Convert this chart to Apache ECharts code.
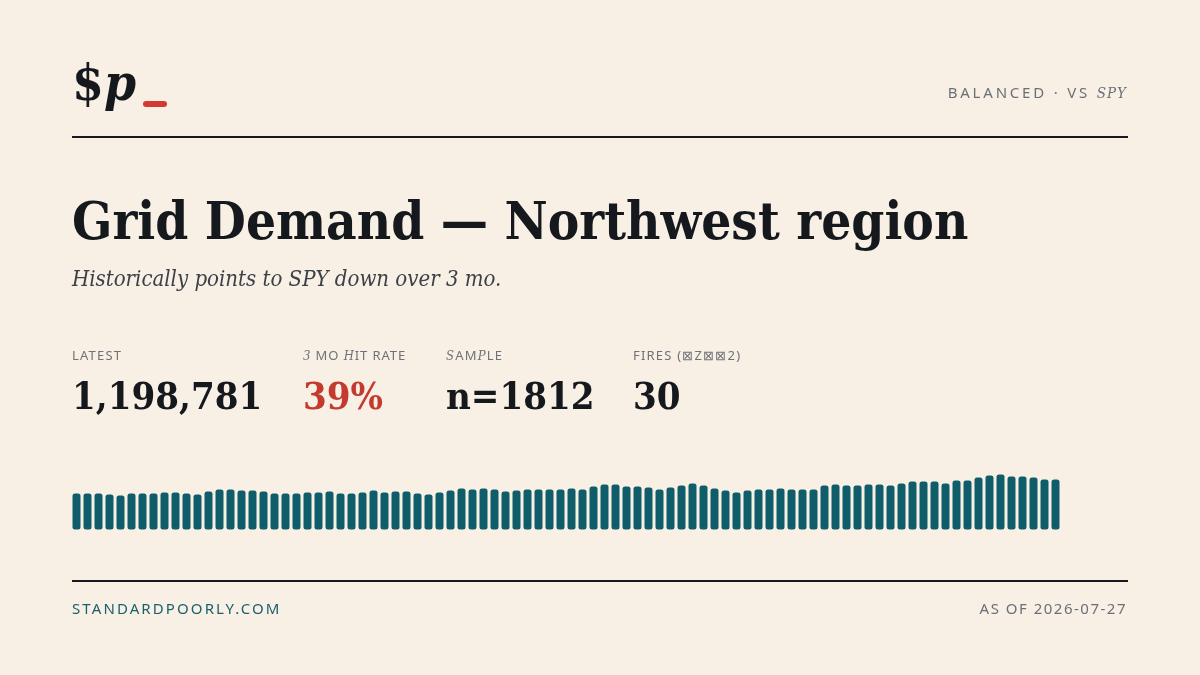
<!DOCTYPE html>
<html lang="en">
<head>
    <meta charset="UTF-8">
    <title>Grid Demand — Northwest region</title>
    <script src="https://cdn.jsdelivr.net/npm/echarts@6/dist/echarts.min.js"></script>
    <style>
        html, body { margin: 0; padding: 0; background: #f8f0e4; }
        #card { position: relative; width: 1200px; height: 675px; background: #f8f0e4; overflow: hidden; }
        #main { position: absolute; left: 0; top: 0; width: 1200px; height: 675px; }
        .t { position: absolute; white-space: nowrap; line-height: 1; }
        .serif { font-family: "DejaVu Serif Condensed", "DejaVu Serif", serif; font-stretch: condensed; }
        .sans { font-family: "Noto Sans", "Open Sans", sans-serif; }
        .it { font-family: "DejaVu Serif Condensed", "DejaVu Serif", serif; font-stretch: condensed; font-style: italic; }
        .rule { position: absolute; left: 72px; width: 1056px; height: 2px; background: #16191d; }
        .label { font-size: 13px; letter-spacing: 1.2px; color: #6e727a; top: 349px; }
        .value { font-size: 38px; font-weight: bold; color: #15191e; top: 377px; }
    </style>
</head>
<body>
<div id="card">
    <div id="main"></div>

    <div class="t serif" style="left:72px; top:57px; font-size:51px; font-weight:bold; color:#15191e;">$<i>p</i></div>
    <div style="position:absolute; left:143px; top:101px; width:24px; height:6px; border-radius:3px; background:#d13b30;"></div>
    <div class="t sans" style="right:73px; top:85px; font-size:15px; letter-spacing:2.8px; color:#6b7078;">BALANCED · VS <span class="it" style="letter-spacing:1px;">SPY</span></div>
    <div class="rule" style="top:136px;"></div>

    <div class="t serif" style="left:72px; top:195px; font-size:52.6px; font-weight:bold; color:#15191e;">Grid Demand — Northwest region</div>
    <div class="t it" style="left:72px; top:268px; font-size:22px; color:#3d4048;">Historically points to SPY down over 3 mo.</div>

    <div class="t sans label" style="left:72px;">LATEST</div>
    <div class="t sans label" style="left:303px; letter-spacing:0.9px;"><span class="it">3</span> MO <span class="it">H</span>IT RATE</div>
    <div class="t sans label" style="left:446px;"><span class="it">S</span>AM<span class="it">P</span>LE</div>
    <div class="t sans label" style="left:633px;">FIRES (⊠Z⊠⊠2)</div>

    <div class="t serif value" style="left:72px;">1,198,781</div>
    <div class="t serif value" style="left:303px; color:#c23b2e;">39%</div>
    <div class="t serif value" style="left:446px;">n=1812</div>
    <div class="t serif value" style="left:633px;">30</div>

    <div class="rule" style="top:580px;"></div>
    <div class="t sans" style="left:72px; top:601px; font-size:15px; letter-spacing:2.1px; color:#1a5f6e;">STANDARDPOORLY.COM</div>
    <div class="t sans" style="right:73px; top:601px; font-size:15px; letter-spacing:1.5px; color:#6b7078;">AS OF 2026-07-27</div>
</div>
<script>
    // weekly demand readings, oldest first
    let values = [
        863200, 864100, 862500, 840300, 815600, 863000, 865200, 861400, 888100, 886300,
        862200, 838700, 911400, 959300, 960100, 935200, 934100, 912000, 863400, 862100,
        864300, 887200, 889000, 910300, 862400, 864200, 887100, 936300, 886400, 912200,
        910100, 862300, 839200, 888300, 935400, 983100, 958200, 984300, 959100, 911200,
        936100, 958400, 960200, 959300, 961100, 982200, 959400, 1031200, 1079300, 1078100,
        1032300, 1030100, 1007200, 958300, 1006400, 1055200, 1103100, 1054300, 983200, 935300,
        886200, 936200, 958100, 960300, 984100, 958300, 961200, 959200, 1055300, 1079100,
        1056200, 1054100, 1080300, 1078200, 1055100, 1103300, 1151200, 1150100, 1152300, 1102200,
        1175100, 1176300, 1247200, 1295100, 1319300, 1271200, 1270100, 1246300, 1199200, 1198781
    ]
    let labels = values.map((v, i) => "w" + (i + 1))

    let chart = echarts.init(document.getElementById("main"), null, { renderer: "canvas" })
    chart.setOption({
        animation: false,
        backgroundColor: "transparent",
        grid: { left: 71, width: 990, top: 469.5, height: 60 },
        xAxis: {
            type: "category",
            data: labels,
            show: false
        },
        yAxis: {
            type: "value",
            min: 0,
            max: 1440000,
            show: false
        },
        series: [
            {
                type: "bar",
                data: values,
                barWidth: 8,
                itemStyle: { color: "#0f5c6b", borderRadius: 2.5 },
                silent: true
            }
        ]
    })
</script>
</body>
</html>
